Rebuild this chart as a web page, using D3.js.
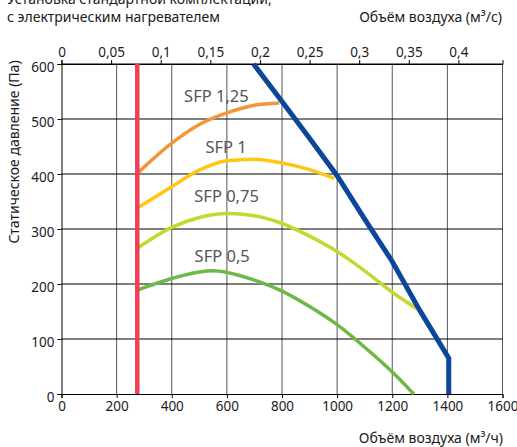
<!DOCTYPE html>
<html>
<head>
<meta charset="utf-8">
<script src="https://cdn.jsdelivr.net/npm/d3@7"></script>
<style>
  body { margin: 0; background: #fff; }
  text { font-family: "Noto Sans", sans-serif; }
</style>
</head>
<body>
<div id="chart"></div>
<script>
// ------------ DATA ------------
// air volume (m3/h) and static pressure (Pa)
var sfp125X = [275, 400, 500, 600, 700, 790];
var sfp125Y = [401, 456, 490, 511, 525, 529];

var sfp1X = [275, 400, 500, 600, 700, 800, 900, 990];
var sfp1Y = [338, 377, 407, 424, 427, 420, 408, 392];

var sfp075X = [275, 400, 500, 600, 700, 800, 900, 1000, 1100, 1200, 1290];
var sfp075Y = [265, 303, 321, 328, 324, 310, 287, 259, 224, 185, 155];

var sfp05X = [275, 400, 500, 550, 600, 700, 800, 900, 1000, 1100, 1200, 1278];
var sfp05Y = [189, 210, 222, 224, 221, 207, 187, 159, 126, 85, 40, 0];

// maximum flow limit (blue) and minimum flow limit (red)
var maxX = [697, 800, 900, 1000, 1100, 1200, 1300, 1405, 1405];
var maxY = [600, 532, 465, 397, 318, 241, 152, 65, 0];
var minFlow = 275;

// curve labels
var labelText = ["SFP 1,25", "SFP 1", "SFP 0,75", "SFP 0,5"];
var labelX = [562, 597, 599, 583];
var labelY = [531, 438, 349, 240];

// ticks
var bottomTicks = [0, 200, 400, 600, 800, 1000, 1200, 1400, 1600];
var leftTicks = [0, 100, 200, 300, 400, 500, 600];
var topTicks = [0, 0.05, 0.1, 0.15, 0.2, 0.25, 0.3, 0.35, 0.4];

// ------------ CHART FORMATTING ------------
var svgWidth = 517;
var svgHeight = 447;

var margin = { top: 64, right: 14.5, bottom: 53, left: 61.5 };
var chartWidth = svgWidth - margin.left - margin.right;
var chartHeight = svgHeight - margin.top - margin.bottom;

var svg = d3.select("#chart")
  .append("svg")
  .attr("width", svgWidth)
  .attr("height", svgHeight);

var chartGroup = svg.append("g")
  .attr("transform", `translate(${margin.left}, ${margin.top})`);

// ------------ SCALES ------------
var x = d3.scaleLinear().domain([0, 1600]).range([0, chartWidth]);
var y = d3.scaleLinear().domain([0, 600]).range([chartHeight, 0]);
var xTop = d3.scaleLinear().domain([0, 1600 / 3600]).range([0, chartWidth]);

var ru = d3.formatLocale({ decimal: ",", thousands: "", grouping: [3], currency: ["", ""] });
var fmtTop = function(d) { return ru.format("~g")(d); };

// ------------ GRID ------------
chartGroup.append("g")
  .selectAll("line")
  .data(bottomTicks.slice(1))
  .enter()
  .append("line")
    .attr("x1", d => x(d))
    .attr("x2", d => x(d))
    .attr("y1", 0)
    .attr("y2", chartHeight)
    .attr("stroke", "#555")
    .attr("stroke-width", 1);

chartGroup.append("g")
  .selectAll("line")
  .data(leftTicks.slice(1))
  .enter()
  .append("line")
    .attr("x1", 0)
    .attr("x2", chartWidth)
    .attr("y1", d => y(d))
    .attr("y2", d => y(d))
    .attr("stroke", "#000")
    .attr("stroke-width", 1);

// ------------ AXES ------------
var bottomAxis = d3.axisBottom(x).tickValues(bottomTicks).tickSize(4).tickPadding(3)
  .tickFormat(d3.format("d"));
var leftAxis = d3.axisLeft(y).tickValues(leftTicks).tickSize(4).tickPadding(3)
  .tickFormat(d3.format("d"));
var topAxis = d3.axisTop(xTop).tickValues(topTicks).tickSize(4).tickPadding(3).tickFormat(fmtTop);

function styleAxis(g) {
  g.select(".domain").attr("stroke", "#000");
  g.selectAll(".tick line").attr("stroke", "#000");
  g.selectAll(".tick text")
    .attr("fill", "#1a1a1a")
    .style("font-size", "13.5px")
    .style("font-family", "'Noto Sans', sans-serif");
}

chartGroup.append("g")
  .attr("transform", "translate(0, " + chartHeight + ")")
  .call(bottomAxis)
  .call(styleAxis);

chartGroup.append("g")
  .call(leftAxis)
  .call(styleAxis)
  .selectAll(".tick text")
    .attr("dy", "0.55em");

chartGroup.append("g")
  .call(topAxis)
  .call(styleAxis);

// ------------ CURVES ------------
var curves = [
  { xs: sfp05X, ys: sfp05Y, color: "#6cb946" },
  { xs: sfp075X, ys: sfp075Y, color: "#c4d831" },
  { xs: sfp1X, ys: sfp1Y, color: "#fdc713" },
  { xs: sfp125X, ys: sfp125Y, color: "#f5953a" }
];

var smoothLine = d3.line()
  .x(d => x(d[0]))
  .y(d => y(d[1]))
  .curve(d3.curveMonotoneX);

curves.forEach(function(c) {
  chartGroup.append("path")
    .datum(d3.zip(c.xs, c.ys))
    .attr("d", smoothLine)
    .attr("fill", "none")
    .attr("stroke", c.color)
    .attr("stroke-width", 3.5);
});

// blue limit line
var straightLine = d3.line()
  .x(d => x(d[0]))
  .y(d => y(d[1]));

chartGroup.append("path")
  .datum(d3.zip(maxX, maxY))
  .attr("d", straightLine)
  .attr("fill", "none")
  .attr("stroke", "#0b469b")
  .attr("stroke-width", 5);

// red min line
chartGroup.append("line")
  .attr("x1", x(minFlow))
  .attr("x2", x(minFlow))
  .attr("y1", y(0))
  .attr("y2", y(600))
  .attr("stroke", "#ee3f56")
  .attr("stroke-width", 4.5);

// ------------ CURVE LABELS ------------
chartGroup.append("g")
  .selectAll("text")
  .data(labelText)
  .enter()
  .append("text")
    .attr("x", (d, i) => x(labelX[i]))
    .attr("y", (d, i) => y(labelY[i]))
    .attr("text-anchor", "middle")
    .attr("fill", "#555")
    .style("font-size", "16.5px")
    .text(d => d);

// ------------ TITLES ------------
svg.append("text")
  .attr("x", 7)
  .attr("y", 4)
  .attr("fill", "#1a1a1a")
  .style("font-size", "14px")
  .text("Установка стандартной комплектации,");

svg.append("text")
  .attr("x", 7)
  .attr("y", 22)
  .attr("fill", "#1a1a1a")
  .style("font-size", "14px")
  .text("с электрическим нагревателем");

svg.append("text")
  .attr("x", 502)
  .attr("y", 22)
  .attr("text-anchor", "end")
  .attr("fill", "#1a1a1a")
  .style("font-size", "14px")
  .text("Объём воздуха (м³/с)");

svg.append("text")
  .attr("x", 503)
  .attr("y", 443)
  .attr("text-anchor", "end")
  .attr("fill", "#1a1a1a")
  .style("font-size", "14px")
  .text("Объём воздуха (м³/ч)");

// y label
svg.append("text")
  .attr("transform", "rotate(-90)")
  .attr("x", -152)
  .attr("y", 19)
  .attr("text-anchor", "middle")
  .attr("fill", "#1a1a1a")
  .style("font-size", "14px")
  .text("Статическое давление (Па)");
</script>
</body>
</html>
